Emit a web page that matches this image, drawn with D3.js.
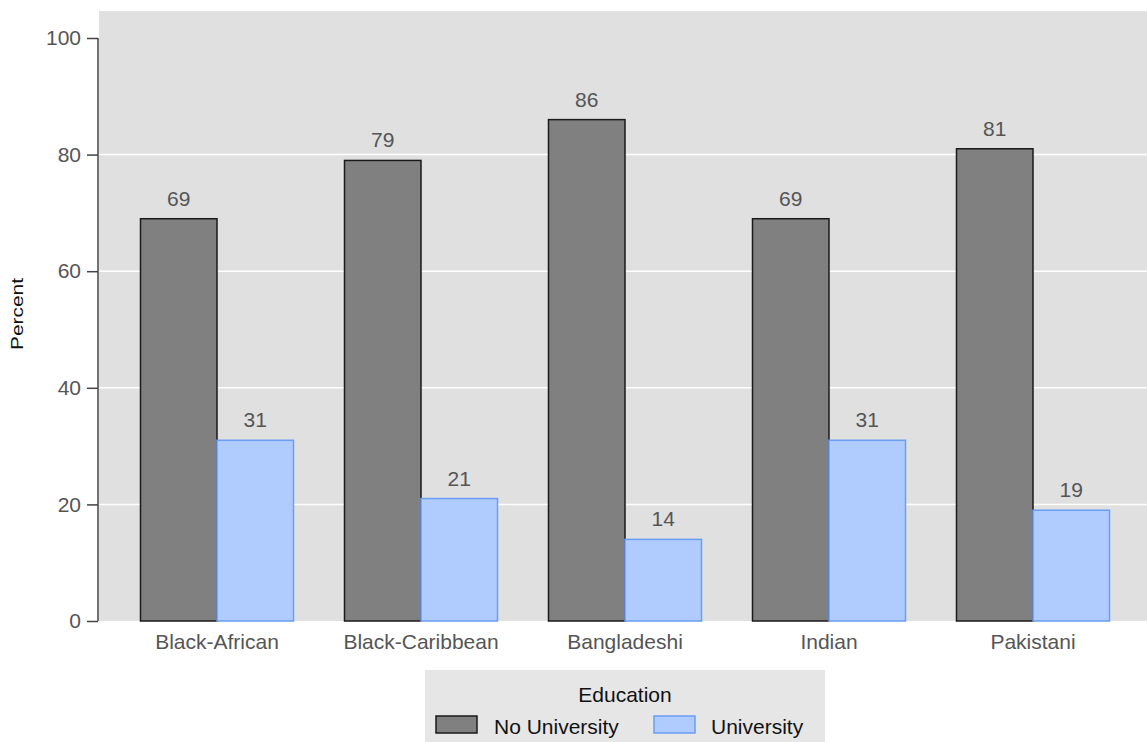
<!DOCTYPE html>
<html><head><meta charset="utf-8">
<script src="https://cdn.jsdelivr.net/npm/d3@7"></script>
<style>body{margin:0;background:#fff;} svg{display:block;} text{font-family:"Liberation Sans",Arial,sans-serif;}</style>
</head><body>
<svg id="c" width="1147" height="742"></svg>
<script>
const categories = ["Black-African","Black-Caribbean","Bangladeshi","Indian","Pakistani"];
const seriesNames = ["No University","University"];
const noUniversity = [69,79,86,69,81];
const university = [31,21,14,31,19];
const yTicks = [0,20,40,60,80,100];

const fills = ["#808080","#b0ccfe"];
const strokes = ["#1a1a1a","#6a9ef5"];
const seriesValues = [noUniversity, university];
const FONT = "Liberation Sans, Arial, sans-serif";

const svg = d3.select("#c");
const W = 1147, H = 742;

const y = d3.scaleLinear().domain([0,100]).range([621,38]);
const x0 = d3.scaleBand().domain(categories).range([115,1135]).paddingInner(0.25).paddingOuter(0.125);
const x1 = d3.scaleBand().domain(seriesNames).range([0,x0.bandwidth()]);

// plot background
svg.append("rect").attr("x",99).attr("y",11).attr("width",W-99).attr("height",621-11).attr("fill","#e0e0e0");

// grid
svg.append("g").selectAll("line").data(yTicks.filter(d=>d>0 && d<100)).join("line")
  .attr("x1",99).attr("x2",W).attr("y1",d=>y(d)).attr("y2",d=>y(d))
  .attr("stroke","#ffffff").attr("stroke-width",1.5);

// y axis
const yAxis = d3.axisLeft(y).tickValues(yTicks).tickSize(11).tickPadding(6);
const ga = svg.append("g").attr("transform","translate(98,0)").call(yAxis);
ga.select(".domain").attr("stroke","#444").attr("stroke-width",1.5).attr("d","M0,"+y(100)+"V"+y(0));
ga.selectAll(".tick line").attr("stroke","#444").attr("stroke-width",1.5);
ga.selectAll(".tick text").attr("fill","#555").attr("font-size",21).attr("font-family",FONT);

// x labels
const gx = d3.axisBottom(x0).tickSize(0).tickPadding(0);
const gxa = svg.append("g").attr("transform","translate(0,621)").call(gx);
gxa.select(".domain").remove();
gxa.selectAll(".tick text").attr("fill","#555").attr("font-size",21).attr("font-family",FONT)
  .attr("dy",null).attr("y",28);

// bars
const groups = svg.append("g").selectAll("g").data(categories).join("g")
  .attr("transform",d=>"translate("+x0(d)+",0)");
const rows = (c,i)=>seriesNames.map((s,j)=>({s,j,v:seriesValues[j][i]}));
groups.selectAll("rect").data(rows).join("rect")
  .attr("x",d=>x1(d.s)).attr("width",x1.bandwidth())
  .attr("y",d=>y(d.v)).attr("height",d=>y(0)-y(d.v))
  .attr("fill",d=>fills[d.j]).attr("stroke",d=>strokes[d.j]).attr("stroke-width",1.5);
groups.selectAll("text.v").data(rows).join("text")
  .attr("class","v")
  .attr("x",d=>x1(d.s)+x1.bandwidth()/2).attr("y",d=>y(d.v)-13)
  .attr("text-anchor","middle").attr("fill","#555").attr("font-size",21)
  .text(d=>d.v);

// y title
svg.append("text").attr("transform","translate(23,314) rotate(-90)")
  .attr("text-anchor","middle").attr("font-size",16).attr("fill","#111")
  .attr("textLength",72).attr("lengthAdjust","spacingAndGlyphs").text("Percent");

// legend
const lg = svg.append("g");
lg.append("rect").attr("x",425).attr("y",670).attr("width",400).attr("height",72).attr("fill","#e6e6e6");
lg.append("text").attr("x",625).attr("y",702).attr("text-anchor","middle").attr("font-size",21).attr("fill","#111").text("Education");
const items = [{x:436,tx:494},{x:654,tx:711}];
seriesNames.forEach((s,j)=>{
  lg.append("rect").attr("x",items[j].x).attr("y",716).attr("width",41).attr("height",17)
    .attr("fill",fills[j]).attr("stroke",strokes[j]).attr("stroke-width",1.5);
  lg.append("text").attr("x",items[j].tx).attr("y",734).attr("font-size",21).attr("fill","#111").text(s);
});
</script>
</body></html>
